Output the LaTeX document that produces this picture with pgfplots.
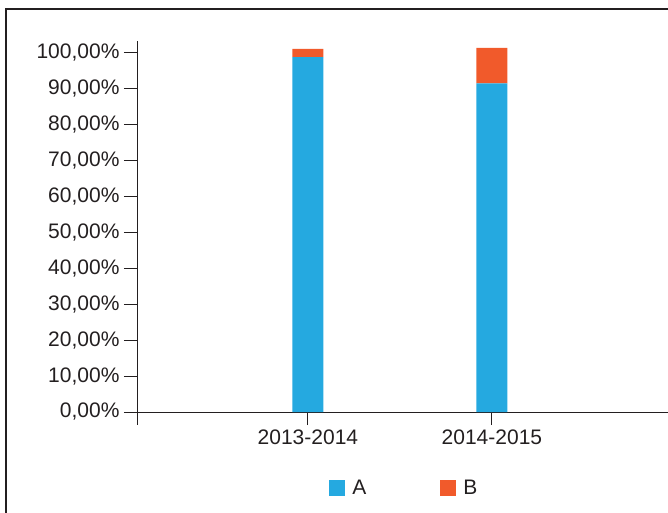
\documentclass[border=0pt]{standalone}
\usepackage{pgfplots}
\pgfplotsset{compat=1.18}
\usepackage{fontspec}
\setmainfont{Liberation Sans}
\definecolor{cA}{HTML}{25A9E0}
\definecolor{cB}{HTML}{F15A2B}
\definecolor{axc}{HTML}{231F20}
\begin{document}
\begin{tikzpicture}
\useasboundingbox (0pt,0pt) rectangle (668pt,-513pt);
\draw[axc, line width=1.4pt] (6pt,-513pt) -- (6pt,-9pt) -- (668pt,-9pt);
\draw[axc, line width=1pt] (137pt,-412pt) -- (137pt,-425pt);
\begin{axis}[
  at={(137pt,-412pt)}, anchor=south west,
  width=531pt, height=371pt, scale only axis,
  xmin=-0.929, xmax=1.957, ymin=0, ymax=103.2,
  axis lines=left,
  axis line style={-, draw=axc, line width=1pt},
  ybar stacked, bar width=31pt,
  xtick={0,1}, xticklabels={2013-2014,2014-2015},
  ytick={0,10,...,100},
  tick align=outside, major tick length=13pt,
  tick style={axc, line width=1pt},
  /pgf/number format/assume math mode=true,
  yticklabel={\pgfmathprintnumber[fixed,fixed zerofill,precision=2,use comma]{\tick}\%},
  ticklabel style={font=\fontsize{21}{24}\selectfont, text=axc},
  yticklabel style={xshift=-1pt},
  xticklabel style={yshift=-1pt},
  legend style={at={(rel axis cs:0.5035,-0.205)}, anchor=center, draw=none, fill=none,
    font=\fontsize{21}{24}\selectfont, text=axc, legend columns=2,
    /tikz/every even column/.append style={column sep=72pt}},
  legend image code/.code={\fill[#1,draw=none] (0pt,-8pt) rectangle (16pt,8pt);},
]
\addplot[fill=cA, draw=none] coordinates {(0,98.7) (1,91.4)};
\addplot[fill=cB, draw=none] coordinates {(0,2.3) (1,9.9)};
\legend{\hspace{5pt}A,\hspace{5pt}B}
\end{axis}
\end{tikzpicture}
\end{document}
